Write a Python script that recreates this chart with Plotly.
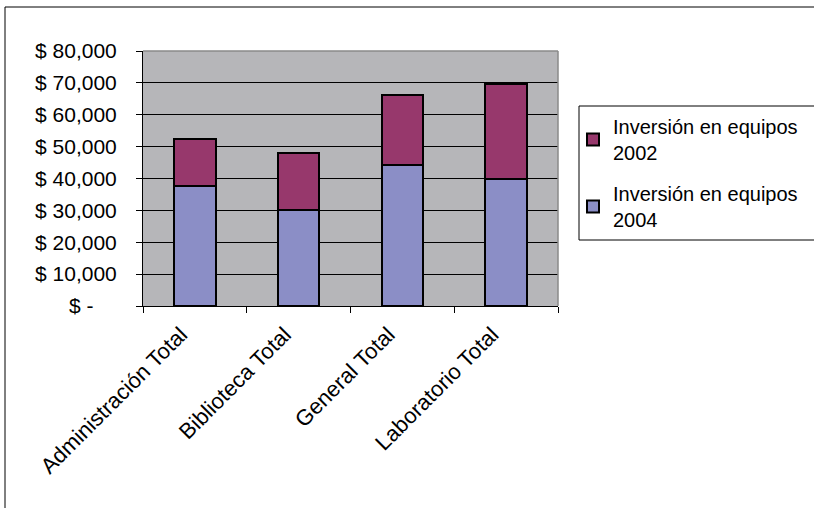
import plotly.graph_objects as go

categories = ["Administración Total", "Biblioteca Total", "General Total", "Laboratorio Total"]
inv_2004 = [37500, 30000, 44300, 40000]
inv_2002 = [15000, 18000, 22000, 29500]
series_names = ["Inversión en equipos<br>2004", "Inversión en equipos<br>2002"]
y_tickvals = [0, 10000, 20000, 30000, 40000, 50000, 60000, 70000, 80000]
y_ticktext = ["$ -\u00a0\u00a0\u00a0\u00a0", "$ 10,000", "$ 20,000", "$ 30,000", "$ 40,000",
              "$ 50,000", "$ 60,000", "$ 70,000", "$ 80,000"]

W, H = 814, 508
L, R, T, B = 143, 256, 51, 202
pw, ph = W - L - R, H - T - B

fig = go.Figure()
fig.add_trace(go.Bar(x=categories, y=inv_2004, name=series_names[0], legendgroup="a",
                     legendrank=2,
                     marker=dict(color="#8B8EC6", line=dict(color="black", width=2))))
fig.add_trace(go.Bar(x=categories, y=inv_2002, name=series_names[1], legendgroup="b",
                     legendrank=1,
                     marker=dict(color="#97386C", line=dict(color="black", width=2))))

font = dict(family="Liberation Sans, Arial, sans-serif", size=21, color="black")
xfont = dict(family="Liberation Sans, Arial, sans-serif", size=22, color="black")

fig.update_layout(
    width=W, height=H,
    margin=dict(l=L, r=R, t=T, b=B, pad=0, autoexpand=False),
    barmode="stack", bargap=0.6,
    paper_bgcolor="white", plot_bgcolor="#B6B6B9",
    font=font,
    showlegend=True,
    legend=dict(x=(573 - L) / pw, y=(306 - 107) / ph, xanchor="left", yanchor="top",
                borderwidth=0, bgcolor="rgba(0,0,0,0)",
                traceorder="grouped", font=dict(size=20), tracegroupgap=12,
                itemwidth=30),
    xaxis=dict(showline=True, linecolor="black", linewidth=1,
               ticks="outside", tickson="boundaries", ticklen=6, tickcolor="black",
               tickangle=-45, showgrid=False, tickfont=xfont,
               ticklabelshift=-14, ticklabelstandoff=6),
    yaxis=dict(range=[0, 80000], tickvals=y_tickvals, ticktext=y_ticktext,
               showline=True, linecolor="black", linewidth=1,
               ticks="outside", ticklen=6, tickcolor="black",
               showgrid=True, gridcolor="black", gridwidth=1, zeroline=False,
               tickfont=font, ticklabelstandoff=15),
    shapes=[
        dict(type="line", xref="paper", yref="paper", x0=0, x1=1, y0=1, y1=1,
             line=dict(color="#8A8A8A", width=1.5), layer="above"),
        dict(type="line", xref="paper", yref="paper", x0=1, x1=1, y0=0, y1=1,
             line=dict(color="#8A8A8A", width=1.5), layer="above"),
        dict(type="rect", xref="paper", yref="paper",
             x0=(5 - L) / pw, x1=(830 - L) / pw, y0=(306 - 530) / ph, y1=(306 - 7) / ph,
             line=dict(color="black", width=1), layer="below"),
        dict(type="rect", xref="paper", yref="paper",
             x0=(579 - L) / pw, x1=(830 - L) / pw, y0=(306 - 240) / ph, y1=(306 - 106) / ph,
             line=dict(color="black", width=1), layer="below"),
    ],
)

fig.write_html("out.html", config={"displayModeBar": False},
               post_script="document.body.style.margin='0';document.body.style.overflow='hidden';")
